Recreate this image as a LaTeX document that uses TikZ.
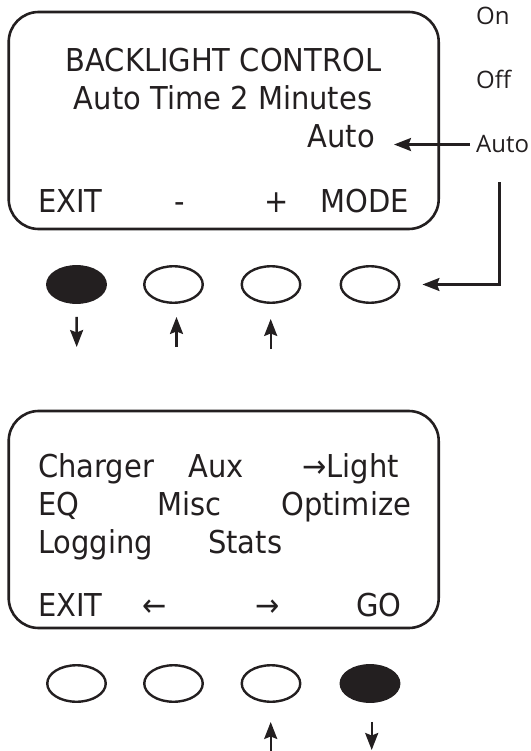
\documentclass[tikz,border=0pt]{standalone}
\usepackage{fontspec}
\setmainfont[FakeStretch=0.92]{DejaVu Sans}
\newfontfamily\sidefont{Open Sans}
\usepackage{tikz}
\usetikzlibrary{arrows.meta,shapes.geometric}
\definecolor{ink}{HTML}{231F20}

\begin{document}
\begin{tikzpicture}[x=1pt,y=-1pt,color=ink,
  screen/.style={draw,line width=2.6pt,rounded corners=30pt,minimum width=430pt,minimum height=217pt,inner sep=0pt},
  lcd/.style={inner sep=0pt,font=\fontsize{31.5}{36}\selectfont},
  side/.style={inner sep=0pt,font=\sidefont\fontsize{24}{28}\selectfont},
  key/.style={draw,ellipse,line width=2.4pt,minimum width=58.5pt,minimum height=36.5pt,inner sep=0pt},
  keyon/.style={key,fill=ink},
  arr/.style={line width=2.4pt,-{Stealth[length=17pt,width=13pt,inset=2.5pt]}}]
  \useasboundingbox (0,0) rectangle (530,751); % 余白を含めた全体
  \node[screen] (lightScreen) at (223.7,120.5) {}; % 上の画面（バックライト設定）
  \node[lcd,anchor=base] (title) at (223.5,72) {BACKLIGHT CONTROL}; % 見出し
  \node[lcd,anchor=base] (autoTime) at (223,110) {Auto Time 2 Minutes}; % 自動消灯の時間
  \node[lcd,anchor=base east] (autoSel) at (375,148) {Auto}; % 現在のモード
  \node[lcd,anchor=base west] (exitA) at (38,213) {EXIT}; % ソフトキーの表示
  \node[lcd,anchor=base] (minus) at (180,213) {-};
  \node[lcd,anchor=base] (plus) at (277,213) {+};
  \node[lcd,anchor=base west] (mode) at (320,213) {MODE};
  \node[side,anchor=base west] (optOn) at (476,25) {On}; % 選べるモード
  \node[side,anchor=base west] (optOff) at (476,89) {Off};
  \node[side,anchor=base west] (optAuto) at (476,153) {Auto};
  \draw[arr,shorten <=6pt,shorten >=19pt] (optAuto.west) -- (autoSel.east |- optAuto.west); % 選んだモードが表示される
  \node[keyon] (keyExit) at (76.5,284.5) {}; % 上の画面のボタン（黒は押す）
  \node[key] (keyMinus) at (173.5,284.5) {};
  \node[key] (keyPlus) at (271,284.5) {};
  \node[key] (keyMode) at (370,284.5) {};
  \draw[arr,shorten <=29pt,shorten >=22pt] ([xshift=-3pt]optAuto.south) |- (keyMode.east); % MODEで切り替え
  \coordinate (downExit) at (76.7,347);
  \coordinate (upMinus) at (176.5,347);
  \coordinate (upPlus) at (270.7,349);
  \draw[arr,shorten <=13pt] (keyExit.south) -- (downExit); % 押す
  \draw[arr,shorten >=13pt] (upMinus) -- (upMinus |- keyMinus.south); % 時間を減らす
  \draw[arr,shorten >=15pt] (upPlus) -- (upPlus |- keyPlus.south); % 時間を増やす
  \node[screen] (menuScreen) at (223.7,519.5) {}; % 下の画面（メニュー）
  \node[lcd,anchor=base west] (charger) at (38,477) {Charger};
  \node[lcd,anchor=base west] (aux) at (188,477) {Aux};
  \node[lcd,anchor=base west] (light) at (302,477) {→Light}; % カーソル位置
  \node[lcd,anchor=base west] (eq) at (38,515) {EQ};
  \node[lcd,anchor=base west] (misc) at (157,515) {Misc};
  \node[lcd,anchor=base west] (optimize) at (281,515) {Optimize};
  \node[lcd,anchor=base west] (logging) at (38,553) {Logging};
  \node[lcd,anchor=base west] (stats) at (208,553) {Stats};
  \node[lcd,anchor=base west] (exitB) at (38,616) {EXIT}; % ソフトキーの表示
  \node[lcd,anchor=base] (left) at (155,616) {←};
  \node[lcd,anchor=base] (right) at (268,616) {→};
  \node[lcd,anchor=base east] (go) at (402,616) {GO};
  \node[key] (menuExit) at (76.5,683.5) {}; % 下の画面のボタン（黒は押す）
  \node[key] (menuLeft) at (173.5,683.5) {};
  \node[key] (menuRight) at (271,683.5) {};
  \node[keyon] (menuGo) at (370,683.5) {};
  \coordinate (upRight) at (270.7,751);
  \coordinate (downGo) at (371.7,750);
  \draw[arr,shorten >=19pt] (upRight) -- (upRight |- menuRight.south); % Lightまで進める
  \draw[arr,shorten <=19pt] (downGo |- menuGo.south) -- (downGo); % 決定
\end{tikzpicture}
\end{document}
